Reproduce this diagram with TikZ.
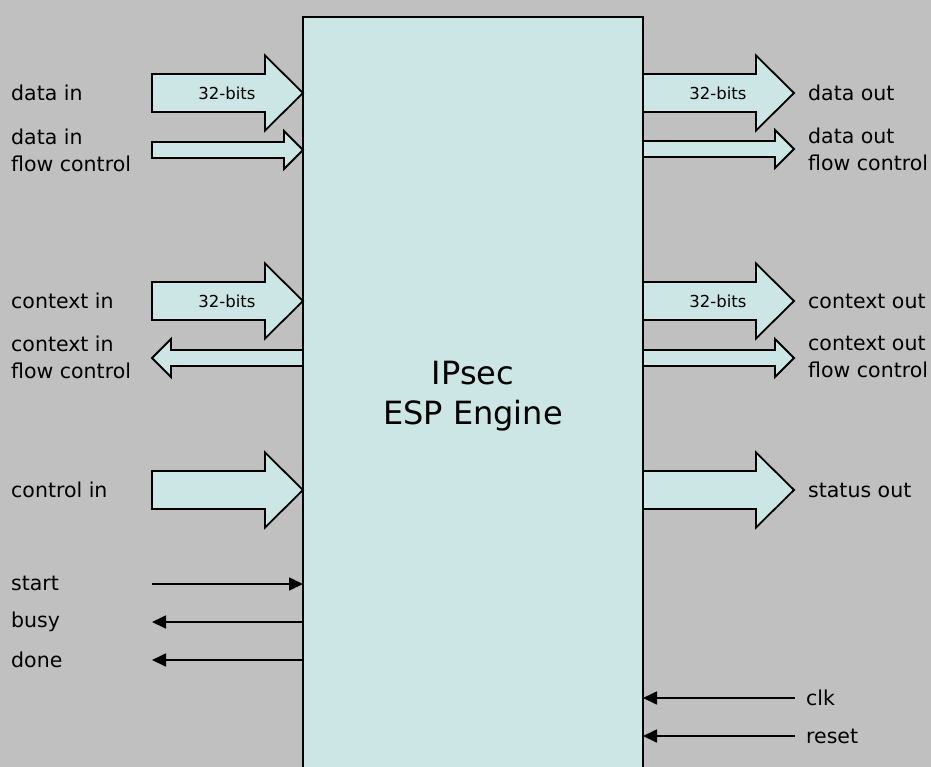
\documentclass[tikz,border=0pt]{standalone}
\usepackage{fontspec}
\setmainfont{DejaVu Sans}
\usetikzlibrary{arrows.meta, positioning}
\usepackage{xcolor}
\definecolor{bggray}{RGB}{192,192,192}
\definecolor{engfill}{RGB}{204,229,229}
% block arrow: tail x, tip x, centre y, shaft half, head half, head length
\newcommand{\blockarrow}[6]{%
  \pgfmathsetmacro\hb{#2-#6*sign(#2-#1)}%
  \draw[bus] (#1,{#3-#4}) -- (\hb,{#3-#4}) -- (\hb,{#3-#5}) -- (#2,#3)
    -- (\hb,{#3+#5}) -- (\hb,{#3+#4}) -- (#1,{#3+#4}) -- cycle;}
\newcommand{\widebus}[3]{\blockarrow{#1}{#2}{#3}{19}{37.5}{38}}
\newcommand{\slimbus}[3]{\blockarrow{#1}{#2}{#3}{8}{19}{19}}

\begin{document}
\begin{tikzpicture}[x=1pt, y=-1pt,
  bus/.style={draw=black, line width=1.8pt, fill=engfill, line join=miter},
  sig/.style={line width=1.7pt, -{Triangle[length=14pt, width=13pt]}},
  lbl/.style={font=\fontsize{20.5}{27}\selectfont, anchor=west, align=left, inner sep=0pt},
  bits/.style={font=\fontsize{16.5}{20}\selectfont, inner sep=0pt}]
  % background
  \useasboundingbox (0,0) rectangle (931,767);
  \fill[bggray] (0,0) rectangle (931,767);
  % engine
  \node[draw, line width=2pt, fill=engfill, outer sep=0pt, anchor=north west,
    minimum width=340pt, minimum height=758pt, align=center,
    font=\fontsize{32}{40}\selectfont] (engine) at (303,17) {IPsec\\ESP Engine};
  % inputs
  \widebus{152}{303}{93}
  \slimbus{152}{303}{150}
  \widebus{152}{303}{301}
  \slimbus{303}{152}{358}
  \widebus{152}{303}{490}
  \node[bits] (bitsdi) at (227,93) {32-bits};
  \node[bits] (bitsci) at (227,301) {32-bits};
  \node[lbl] (datain) at (11,93) {data in};
  \node[lbl] (datainfc) at (11,150) {data in\\flow control};
  \node[lbl] (ctxin) at (11,301) {context in};
  \node[lbl] (ctxinfc) at (11,357) {context in\\flow control};
  \node[lbl] (ctrlin) at (11,490) {control in};
  \node[lbl] (start) at (11,583) {start};
  \node[lbl] (busy) at (11,622) {busy};
  \node[lbl] (done) at (11,660) {done};
  \coordinate (startL) at (152,584);
  \coordinate (busyL) at (152,622);
  \coordinate (doneL) at (152,660);
  \draw[sig] (startL) -- (startL -| engine.west);
  \draw[sig] (busyL -| engine.west) -- (busyL);
  \draw[sig] (doneL -| engine.west) -- (doneL);
  % outputs
  \widebus{643}{794}{93}
  \slimbus{643}{794}{149}
  \widebus{643}{794}{301}
  \slimbus{643}{794}{358}
  \widebus{643}{794}{490}
  \node[bits] (bitsdo) at (718,93) {32-bits};
  \node[bits] (bitsco) at (718,301) {32-bits};
  \node[lbl] (dataout) at (808,93) {data out};
  \node[lbl] (dataoutfc) at (808,149) {data out\\flow control};
  \node[lbl] (ctxout) at (808,301) {context out};
  \node[lbl] (ctxoutfc) at (808,357) {context out\\flow control};
  \node[lbl] (statout) at (808,490) {status out};
  \node[lbl] (clk) at (806,698) {clk};
  \node[lbl] (reset) at (806,736) {reset};
  \coordinate (clkR) at (795,698);
  \coordinate (resetR) at (795,736);
  \draw[sig] (clkR) -- (clkR -| engine.east);
  \draw[sig] (resetR) -- (resetR -| engine.east);
\end{tikzpicture}
\end{document}
